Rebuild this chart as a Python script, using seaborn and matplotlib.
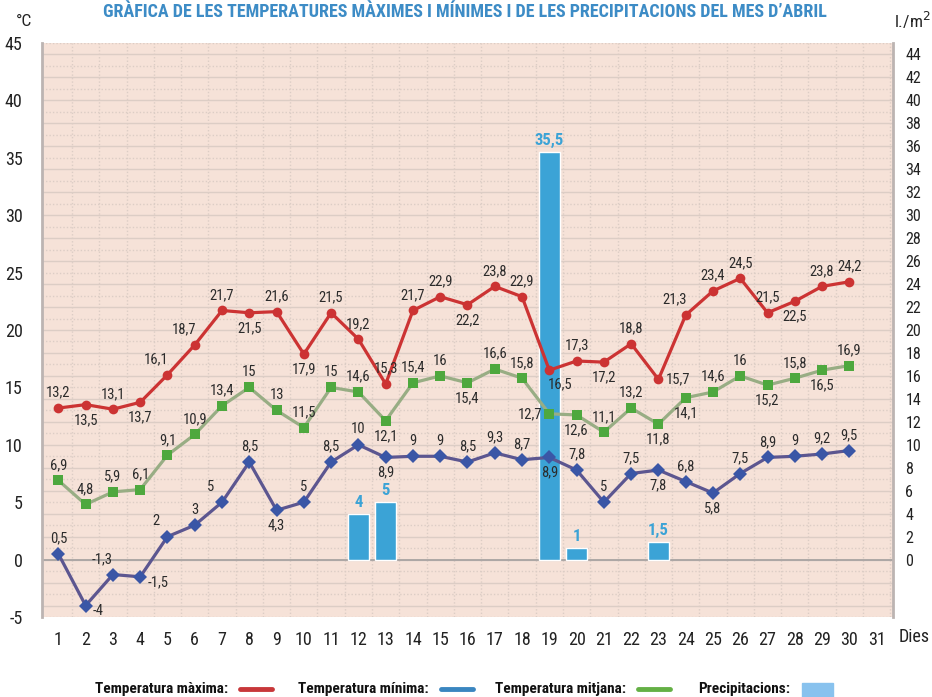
import numpy as np
import matplotlib
matplotlib.use("Agg")
import matplotlib.pyplot as plt
import seaborn as sns
from matplotlib import font_manager
from matplotlib.lines import Line2D
from matplotlib.patches import Rectangle

# Data (April, daily)
dies = list(range(1, 31))
temp_max = [13.2, 13.5, 13.1, 13.7, 16.1, 18.7, 21.7, 21.5, 21.6, 17.9,
            21.5, 19.2, 15.3, 21.7, 22.9, 22.2, 23.8, 22.9, 16.5, 17.3,
            17.2, 18.8, 15.7, 21.3, 23.4, 24.5, 21.5, 22.5, 23.8, 24.2]
temp_min = [0.5, -4, -1.3, -1.5, 2, 3, 5, 8.5, 4.3, 5,
            8.5, 10, 8.9, 9, 9, 8.5, 9.3, 8.7, 8.9, 7.8,
            5, 7.5, 7.8, 6.8, 5.8, 7.5, 8.9, 9, 9.2, 9.5]
temp_mitjana = [6.9, 4.8, 5.9, 6.1, 9.1, 10.9, 13.4, 15, 13, 11.5,
                15, 14.6, 12.1, 15.4, 16, 15.4, 16.6, 15.8, 12.7, 12.6,
                11.1, 13.2, 11.8, 14.1, 14.6, 16, 15.2, 15.8, 16.5, 16.9]
pluja_dies = [12, 13, 19, 20, 23]
pluja_valors = [4, 5, 35.5, 1, 1.5]

# label placement per point (a=above, b=below, r=right, l=left, al=above-left, br=below-right)
pos_max = ['a', 'b', 'a', 'b', 'al', 'al', 'a', 'b', 'a', 'b',
           'a', 'a', 'a', 'a', 'a', 'b', 'a', 'a', 'br', 'a',
           'b', 'a', 'r', 'al', 'a', 'a', 'a', 'b', 'a', 'a']
pos_min = ['a', 'r', 'al', 'r', 'al', 'a', 'al', 'a', 'b', 'a',
           'a', 'a', 'b', 'a', 'a', 'a', 'a', 'a', 'b', 'a',
           'a', 'a', 'b', 'a', 'b', 'a', 'a', 'a', 'a', 'a']
pos_mit = ['a', 'a', 'a', 'a', 'a', 'a', 'a', 'a', 'a', 'a',
           'a', 'a', 'b', 'a', 'a', 'b', 'a', 'a', 'l', 'b',
           'a', 'a', 'b', 'b', 'a', 'a', 'b', 'a', 'b', 'a']

sns.set_style("white")
# condensed face, like the original
available = {f.name for f in font_manager.fontManager.ttflist}
if 'Roboto Condensed' in available:
    plt.rcParams['font.family'] = ['Roboto Condensed', 'DejaVu Sans']
else:
    plt.rcParams['font.family'] = ['DejaVu Sans']
    plt.rcParams['font.stretch'] = 'condensed'
plt.rcParams['axes.unicode_minus'] = False

fig = plt.figure(figsize=(9.32, 6.97), dpi=100)
ax = fig.add_axes([42 / 932, 1 - 617 / 697, (893 - 42) / 932, (617 - 43) / 697])

bg = '#f6e2d8'
grid_c = '#dccdc5'
ax.set_facecolor(bg)
ax.set_xlim(0.4, 31.6)
ax.set_ylim(-5, 45)

# grid
for v in range(-4, 45):
    if v % 2 == 0:
        ax.axhline(v, color=grid_c, lw=1.0, zorder=0)
    else:
        ax.axhline(v, color=grid_c, lw=1.0, ls=(0, (1, 1.5)), zorder=0)
for d in range(1, 32):
    ax.axvline(d + 0.5, color=grid_c, lw=1.0, ls=(0, (1, 1.5)), zorder=0)
ax.axhline(45, color=grid_c, lw=1.0, ls=(0, (1, 1.5)), zorder=0)
ax.axhline(-5, color=grid_c, lw=1.0, ls=(0, (1, 1.5)), zorder=0)
ax.axhline(0, color='#a8a4a2', lw=1.3, zorder=1)

# precipitation bars (same scale as temperature axis)
bar_c = '#3ba3d6'
ax.bar(pluja_dies, pluja_valors, width=0.75, color=bar_c, zorder=2)
for d, v in zip(pluja_dies, pluja_valors):
    ax.annotate(f'{v:g}'.replace('.', ','), (d, v), xytext=(0, 3), textcoords='offset points',
                ha='center', va='bottom', fontsize=12, fontweight='bold', color=bar_c, zorder=6)

# lines
sns.lineplot(x=dies, y=temp_max, ax=ax, color='#cc3333', lw=2.3, marker='o', markersize=7,
             markeredgewidth=0, zorder=4)
sns.lineplot(x=dies, y=temp_mitjana, ax=ax, color='#98ad84', lw=2.3, marker='s', markersize=6.5,
             markerfacecolor='#4ea83e', markeredgewidth=0, zorder=4)
sns.lineplot(x=dies, y=temp_min, ax=ax, color='#5c5690', lw=2.3, marker='D', markersize=7,
             markerfacecolor='#3a56a6', markeredgewidth=0, zorder=4)

offsets = {'a': ((0, 6), 'center', 'bottom'),
           'b': ((0, -6), 'center', 'top'),
           'r': ((5, 0), 'left', 'center'),
           'l': ((-5, 0), 'right', 'center'),
           'al': ((-8, 6), 'center', 'bottom'),
           'br': ((8, -5), 'center', 'top')}


def etiquetes(ys, poss):
    for d, y, p in zip(dies, ys, poss):
        (dx, dy), ha, va = offsets[p]
        if p == 'r' and y < 0:
            dy = -4
        ax.annotate(f'{y:g}'.replace('.', ','), (d, y), xytext=(dx, dy), textcoords='offset points',
                    ha=ha, va=va, fontsize=10.5, color='#2b2b2b', zorder=6)


etiquetes(temp_max, pos_max)
etiquetes(temp_mitjana, pos_mit)
etiquetes(temp_min, pos_min)

# axes styling
for s in ['top', 'bottom']:
    ax.spines[s].set_visible(False)
for s in ['left', 'right']:
    ax.spines[s].set_color('#bcb4b2')
    ax.spines[s].set_linewidth(2)
ax.set_yticks(range(-5, 46, 5))
ax.set_xticks(range(1, 32))
ax.tick_params(axis='both', length=0, labelsize=13, colors='#222222')
ax.tick_params(axis='y', pad=14)
ax.tick_params(axis='x', pad=10)

ax2 = ax.twinx()
ax2.set_ylim(-5, 45)
ax2.set_yticks(range(0, 45, 2))
ax2.tick_params(axis='y', length=0, labelsize=11.5, pad=9, colors='#222222')
for s in ax2.spines.values():
    s.set_visible(False)

fig.text(24 / 932, 1 - 22 / 697, '°C', fontsize=12.5, ha='center', va='center', color='#222222')
fig.text(912 / 932, 1 - 20 / 697, 'l./m$^2$', fontsize=12.5, ha='center', va='center', color='#222222')
fig.text(914 / 932, 1 - 637 / 697, 'Dies', fontsize=13, ha='center', va='center', color='#222222')

fig.text(465 / 932, 1 - 12 / 697,
         'GRÀFICA DE LES TEMPERATURES MÀXIMES I MÍNIMES I DE LES PRECIPITACIONS DEL MES D’ABRIL',
         fontsize=13, fontweight='bold', color='#3d8cc6', ha='center', va='center')

# legend at the bottom
ly = 1 - 689 / 697
legend_items = [('Temperatura màxima:', 228, '#c8373a'),
                ('Temperatura mínima:', 429, '#3a86c0'),
                ('Temperatura mitjana:', 626, '#64b045')]
for txt, xr, c in legend_items:
    fig.text(xr / 932, ly, txt, fontsize=11, fontweight='bold', ha='right', va='center', color='#111111')
    fig.add_artist(Line2D([(xr + 12) / 932, (xr + 44) / 932], [ly, ly], color=c, lw=3.5,
                          transform=fig.transFigure))
fig.text(790 / 932, ly, 'Precipitacions:', fontsize=11, fontweight='bold', ha='right', va='center',
         color='#111111')
fig.add_artist(Rectangle((802 / 932, 1 - 697 / 697), 31 / 932, 14 / 697, color='#88c2ee',
                         transform=fig.transFigure))

fig.savefig('out.png', dpi=100)
